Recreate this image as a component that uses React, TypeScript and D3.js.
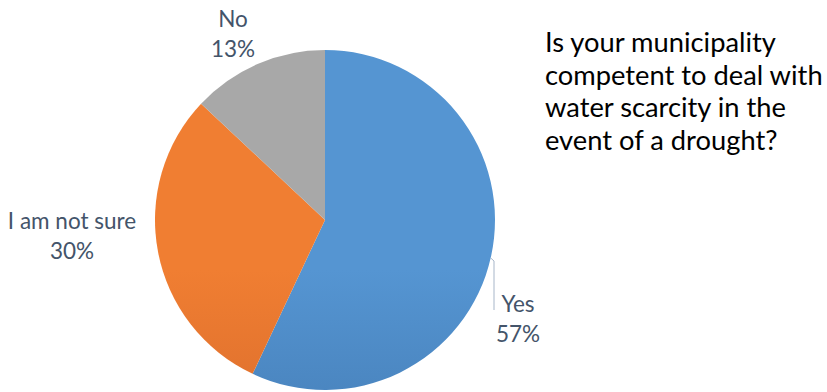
import React from "react";
import * as d3 from "d3";

const categories = ["Yes", "I am not sure", "No"];
const values = [57, 30, 13];
const percentLabels = ["57%", "30%", "13%"];
const questionLines = [
  "Is your municipality",
  "competent to deal with",
  "water scarcity in the",
  "event of a drought?",
];

const W = 827;
const H = 392;
const CX = 325;
const CY = 220;
const R = 170;

const gradients = [
  { id: "gYes", top: "#5595D2", bottom: "#386BA1" },
  { id: "gNot", top: "#F07E32", bottom: "#C75D27" },
  { id: "gNo", top: "#A8A8A8", bottom: "#7D7D7D" },
];

// label layout (anchor x, first baseline y)
const labelLayout = [
  { x: 518, y: 312, anchor: "middle" },
  { x: 72, y: 229, anchor: "middle" },
  { x: 233, y: 27, anchor: "middle" },
];

const FONT = "Lato, 'Open Sans', sans-serif";
const LABEL_COLOR = "#44546A";

export default function App() {
  const pie = d3
    .pie<number>()
    .sort(null)
    .startAngle(0)
    .endAngle(2 * Math.PI)
    .value((d) => d);
  const arcs = pie(values);
  const arcGen = d3.arc<d3.PieArcDatum<number>>().innerRadius(0).outerRadius(R);

  // leader line for the "Yes" label
  const leaderY0 = 258;
  const leaderX0 = CX + Math.sqrt(R * R - (leaderY0 - CY) * (leaderY0 - CY));
  const leaderX1 = 494;
  const leaderY1 = 310;

  return (
    <svg
      width={W}
      height={H}
      style={{ position: "absolute", left: 0, top: 0, display: "block" }}
    >
      <defs>
        {gradients.map((g) => (
          <linearGradient
            key={g.id}
            id={g.id}
            gradientUnits="userSpaceOnUse"
            x1={0}
            y1={CY - R}
            x2={0}
            y2={CY + R}
          >
            <stop offset="0" stopColor={g.top} />
            <stop offset="1" stopColor={g.bottom} />
          </linearGradient>
        ))}
      </defs>
      <rect width={W} height={H} fill="#FFFFFF" />
      <g transform={`translate(${CX},${CY})`}>
        {arcs.map((a, i) => (
          <path key={i} d={arcGen(a) || ""} fill={`url(#${gradients[i].id})`} />
        ))}
      </g>
      <path
        d={`M${leaderX0},${leaderY0}L${leaderX1},${leaderY0 + 3}L${leaderX1},${leaderY1}`}
        fill="none"
        stroke="#A7B6C9"
        strokeWidth={1}
      />
      {categories.map((c, i) => (
        <text
          key={c}
          x={labelLayout[i].x}
          y={labelLayout[i].y}
          textAnchor={labelLayout[i].anchor as any}
          fontFamily={FONT}
          fontSize={22.5}
          fill={LABEL_COLOR}
        >
          <tspan x={labelLayout[i].x}>{c}</tspan>
          <tspan x={labelLayout[i].x} dy={29.5}>
            {percentLabels[i]}
          </tspan>
        </text>
      ))}
      <text fontFamily={FONT} fontSize={27.3} fill="#000000">
        {questionLines.map((l, i) => (
          <tspan key={i} x={545} y={52 + i * 32.5}>
            {l}
          </tspan>
        ))}
      </text>
    </svg>
  );
}
